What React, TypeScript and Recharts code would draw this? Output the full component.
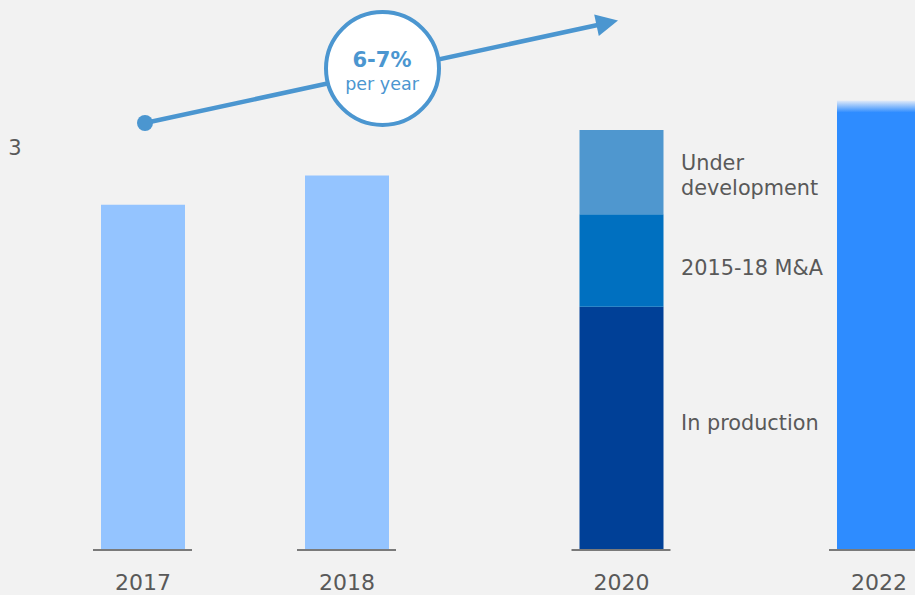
import { Bar, BarChart, Cell, LabelList, XAxis, YAxis } from "recharts";

const years = ["2017", "2018", "2020", "2022"];
const totals = [2.57, 2.79, null, 3.35];
const inProduction = [null, null, 1.81, null];
const acquisitions = [null, null, 0.69, null];
const underDevelopment = [null, null, 0.63, null];
const yTicks = [3];

// layout: bar centres in chart pixels (the bars are not evenly spaced)
const barCenters = [143, 347, 621.5, 879];

const totalColors = ["#94c4ff", "#94c4ff", "#94c4ff", "url(#fade2022)"];
const textGray = "#595959";
const accent = "#4b96d0";
const font = "'DejaVu Sans', sans-serif";

const data = years.map((year, i) => ({
  year,
  pos: barCenters[i],
  total: totals[i],
  production: inProduction[i],
  ma: acquisitions[i],
  dev: underDevelopment[i],
}));

function YearTick(props: any) {
  const { x, y, payload } = props;
  const label = years[barCenters.indexOf(payload.value)];
  return (
    <g>
      <line x1={x - 50} x2={x + 49} y1={y + 1} y2={y + 1} stroke="#7a7a7a" strokeWidth={2} />
      <text x={x} y={y + 41} textAnchor="middle" fill={textGray} fontSize={22} fontFamily={font}>
        {label}
      </text>
    </g>
  );
}

function ValueTick(props: any) {
  const { y, payload } = props;
  return (
    <text x={15} y={y + 7.5} textAnchor="middle" fill={textGray} fontSize={21} fontFamily={font}>
      {payload.value}
    </text>
  );
}

function sideLabel(lines: string[], dy: number) {
  return (props: any) => {
    const { x, y, width, height, value } = props;
    if (value == null || !height) return null;
    const cy = y + height / 2;
    return (
      <text x={x + width + 17.5} y={cy + dy} fill={textGray} fontSize={20.8} fontFamily={font}>
        {lines.map((l, i) => (
          <tspan key={i} x={x + width + 17.5} dy={i === 0 ? 0 : 25}>
            {l}
          </tspan>
        ))}
      </text>
    );
  };
}

export default function App() {
  return (
    <div
      style={{
        position: "fixed",
        left: 0,
        top: 0,
        width: 915,
        height: 595,
        overflow: "hidden",
        background: "#f2f2f2",
      }}
    >
      <BarChart width={1000} height={595} data={data} margin={{ top: 0, right: 0, bottom: 0, left: 0 }}>
        <defs>
          <linearGradient id="fade2022" x1="0" y1="0" x2="0" y2="1">
            <stop offset="0" stopColor="#e4ecf8" />
            <stop offset="0.027" stopColor="#2e8cff" />
            <stop offset="1" stopColor="#2e8cff" />
          </linearGradient>
        </defs>
        <XAxis
          type="number"
          dataKey="pos"
          domain={[30, 1000]}
          ticks={barCenters}
          allowDataOverflow
          height={46}
          axisLine={false}
          tickLine={false}
          tickSize={0}
          tickMargin={0}
          tick={<YearTick />}
          interval={0}
        />
        <YAxis
          width={30}
          domain={[0, 4.1]}
          ticks={yTicks}
          axisLine={false}
          tickLine={false}
          tick={<ValueTick />}
        />
        <Bar dataKey="total" stackId="a" barSize={84} isAnimationActive={false}>
          {data.map((d, i) => (
            <Cell key={d.year} fill={totalColors[i]} />
          ))}
        </Bar>
        <Bar dataKey="production" stackId="a" barSize={84} fill="#004097" isAnimationActive={false}>
          <LabelList dataKey="production" content={sideLabel(["In production"], 2)} />
        </Bar>
        <Bar dataKey="ma" stackId="a" barSize={84} fill="#0070c0" isAnimationActive={false}>
          <LabelList dataKey="ma" content={sideLabel(["2015-18 M&A"], 15)} />
        </Bar>
        <Bar dataKey="dev" stackId="a" barSize={84} fill="#4f97cf" isAnimationActive={false}>
          <LabelList dataKey="dev" content={sideLabel(["Under", "development"], -2.5)} />
        </Bar>
      </BarChart>
      <svg width={915} height={595} style={{ position: "absolute", left: 0, top: 0, pointerEvents: "none" }}>
        <line x1={145} y1={123} x2={600} y2={24.5} stroke={accent} strokeWidth={4.5} />
        <polygon points="618,20.5 598.8,35.9 594.2,14.5" fill={accent} />
        <circle cx={145} cy={123} r={8} fill={accent} />
        <circle cx={382.5} cy={68.5} r={56.5} fill="#ffffff" stroke={accent} strokeWidth={4} />
        <text x={382} y={67} textAnchor="middle" fill={accent} fontSize={21} fontWeight="bold" fontFamily={font}>
          6-7%
        </text>
        <text x={382} y={90} textAnchor="middle" fill={accent} fontSize={17.5} fontFamily={font}>
          per year
        </text>
      </svg>
    </div>
  );
}
